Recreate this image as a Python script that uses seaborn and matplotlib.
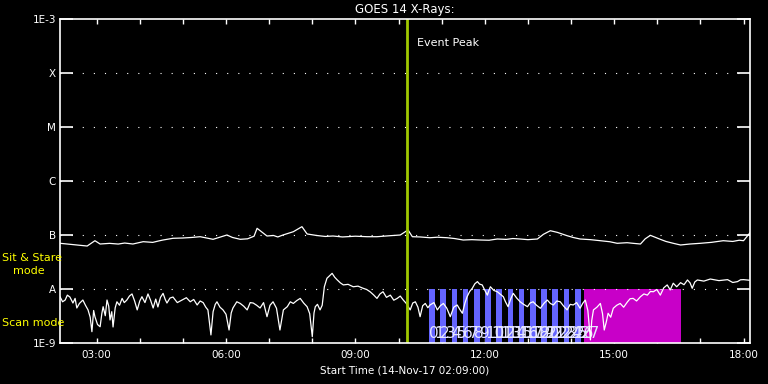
import matplotlib
matplotlib.use("Agg")
import matplotlib.pyplot as plt
import seaborn as sns
import pandas as pd
from matplotlib.ticker import FixedLocator, NullLocator

sns.set_theme(style="dark")
plt.rcParams['font.family'] = ['DejaVu Sans']

# ---- data (time in decimal hours UT, flux in nW/m^2) ----
long_pts = [
    (2.15, 70.2), (2.78, 62.5), (2.96, 78.4), (3.08, 68.1), (3.3, 70), (3.5, 68), (3.65, 71),
    (3.84, 68.1), (4.08, 75.2), (4.3, 73), (4.45, 78), (4.54, 80.8), (4.77, 86.9), (5.0, 88),
    (5.2, 90), (5.40, 93), (5.55, 88), (5.70, 83.2), (6.02, 100), (6.15, 90), (6.33, 83.2),
    (6.5, 85), (6.65, 95), (6.72, 133), (6.95, 95.8), (7.1, 98), (7.2, 92), (7.32, 100),
    (7.56, 115), (7.76, 142.6), (7.88, 104.5), (8.1, 98), (8.3, 94), (8.48, 95.8), (8.7, 92),
    (9.0, 95), (9.27, 93), (9.5, 93), (9.8, 97), (10.04, 100), (10.22, 124), (10.32, 93),
    (10.5, 92), (10.73, 89), (10.9, 91), (11.13, 89), (11.3, 86), (11.50, 80.8), (11.7, 82),
    (11.89, 80.8), (12.1, 80), (12.29, 84.3), (12.5, 83), (12.65, 86), (12.82, 84.3),
    (13.0, 82), (13.22, 84.3), (13.36, 103), (13.52, 120), (13.68, 112), (13.91, 97),
    (14.05, 90), (14.21, 84.3), (14.45, 82), (14.68, 78.4), (14.9, 75), (15.07, 70.2),
    (15.3, 72), (15.45, 70), (15.61, 68.1), (15.72, 85), (15.84, 98.6), (16.07, 83.2),
    (16.2, 76), (16.37, 70.2), (16.54, 65.3), (16.75, 68), (17.00, 70.2), (17.25, 73),
    (17.53, 78.4), (17.75, 76), (17.9, 80), (18.00, 78.4), (18.15, 110)]

short_pts = [
    (2.15, 7.2), (2.21, 5.8), (2.27, 6.25), (2.32, 7.7), (2.38, 7.1), (2.45, 5.5), (2.50, 6.7),
    (2.54, 4.45), (2.60, 5.4), (2.68, 6.25), (2.74, 5.0), (2.80, 4.1), (2.85, 3.0), (2.89, 1.62),
    (2.93, 4.0), (2.96, 3.07), (3.02, 2.2), (3.08, 2.0), (3.12, 3.5), (3.15, 4.7), (3.20, 3.2),
    (3.24, 6.25), (3.28, 4.8), (3.31, 2.67), (3.35, 3.8), (3.38, 1.98), (3.43, 4.5), (3.47, 5.8),
    (3.53, 5.0), (3.59, 6.7), (3.64, 5.6), (3.70, 6.25), (3.76, 7.4), (3.82, 8.1), (3.88, 6.0),
    (3.94, 4.1), (4.00, 6.0), (4.05, 7.2), (4.12, 5.6), (4.19, 8.1), (4.25, 6.2), (4.31, 4.45),
    (4.37, 6.5), (4.42, 4.65), (4.48, 7.0), (4.54, 8.3), (4.59, 6.4), (4.63, 5.5), (4.70, 6.8),
    (4.77, 7.1), (4.87, 5.6), (4.98, 6.25), (5.08, 6.9), (5.17, 5.8), (5.25, 6.4), (5.33, 5.06),
    (5.40, 6.0), (5.47, 5.6), (5.53, 4.6), (5.58, 4.1), (5.65, 1.41), (5.70, 3.8), (5.75, 5.2),
    (5.79, 5.8), (5.86, 4.6), (5.93, 4.1), (6.00, 3.4), (6.07, 1.74), (6.12, 3.6), (6.16, 4.45),
    (6.25, 5.8), (6.33, 5.4), (6.41, 4.8), (6.49, 4.1), (6.56, 5.6), (6.63, 5.5), (6.71, 5.0),
    (6.79, 4.45), (6.87, 5.6), (6.95, 3.07), (7.02, 5.0), (7.09, 5.8), (7.17, 4.4), (7.25, 1.74),
    (7.33, 4.1), (7.42, 4.7), (7.49, 5.8), (7.56, 5.4), (7.64, 6.1), (7.72, 6.7), (7.80, 5.5),
    (7.88, 4.7), (7.94, 3.5), (8.00, 1.31), (8.04, 3.6), (8.07, 4.7), (8.12, 5.2), (8.18, 4.1),
    (8.23, 5.0), (8.28, 11.0), (8.34, 15.8), (8.40, 17.5), (8.46, 19.5), (8.52, 16.5),
    (8.58, 14.7), (8.65, 13.0), (8.72, 11.9), (8.83, 12.2), (8.95, 11.0), (9.06, 11.3),
    (9.18, 10.3), (9.26, 9.8), (9.34, 8.9), (9.42, 7.8), (9.50, 6.7), (9.57, 8.1), (9.64, 8.9),
    (9.72, 7.0), (9.81, 7.7), (9.89, 6.2), (9.97, 6.7), (10.04, 7.4), (10.11, 6.25), (10.18, 5.4),
    (10.27, 4.1), (10.33, 5.5), (10.39, 5.8), (10.45, 4.6), (10.50, 3.07), (10.56, 4.9),
    (10.62, 5.4), (10.68, 4.5), (10.73, 5.06), (10.82, 5.6), (10.90, 4.1), (10.97, 4.9),
    (11.04, 5.4), (11.12, 4.4), (11.20, 3.07), (11.28, 4.6), (11.36, 5.06), (11.42, 4.2),
    (11.48, 3.55), (11.54, 5.5), (11.59, 7.2), (11.65, 9.0), (11.71, 10.3), (11.77, 12.5),
    (11.83, 13.7), (11.88, 12.3), (11.94, 11.9), (12.00, 9.5), (12.06, 7.7), (12.10, 9.6),
    (12.13, 11.0), (12.21, 9.4), (12.29, 8.9), (12.36, 8.0), (12.43, 7.2), (12.48, 5.8),
    (12.54, 4.7), (12.60, 6.5), (12.66, 8.3), (12.74, 6.8), (12.82, 5.8), (12.90, 5.2),
    (12.99, 4.7), (13.05, 5.5), (13.12, 5.8), (13.20, 5.0), (13.29, 4.4), (13.37, 5.4),
    (13.45, 6.25), (13.52, 5.4), (13.59, 5.06), (13.67, 6.0), (13.75, 5.8), (13.83, 4.8),
    (13.91, 4.1), (13.98, 5.2), (14.05, 5.06), (14.13, 5.6), (14.21, 4.4), (14.27, 5.4),
    (14.33, 6.25), (14.39, 4.0), (14.45, 1.14), (14.48, 2.6), (14.52, 4.1), (14.60, 4.6),
    (14.68, 5.4), (14.73, 3.5), (14.77, 1.74), (14.82, 2.5), (14.86, 3.55), (14.92, 3.0),
    (14.98, 4.4), (15.06, 5.0), (15.14, 5.4), (15.22, 4.6), (15.31, 5.8), (15.37, 6.6),
    (15.44, 6.7), (15.52, 6.0), (15.61, 7.2), (15.69, 8.1), (15.77, 7.7), (15.84, 9.0),
    (15.91, 8.9), (15.99, 9.8), (16.07, 7.7), (16.15, 10.5), (16.23, 11.9), (16.30, 9.6),
    (16.37, 12.8), (16.45, 11.0), (16.54, 13.1), (16.62, 12.0), (16.70, 14.7), (16.76, 13.0),
    (16.81, 10.3), (16.87, 13.5), (16.93, 14.7), (17.08, 14.0), (17.23, 15.3), (17.43, 14.3),
    (17.63, 14.9), (17.75, 13.2), (17.86, 13.7), (17.93, 14.8), (18.00, 14.9), (18.15, 14.5)]

scan_starts = [10.71, 10.97, 11.23, 11.49, 11.75, 12.01, 12.27, 12.53, 12.79, 13.05,
               13.31, 13.57, 13.83, 14.09]
scan_width = 0.13
stare_start, stare_end = 14.31, 16.56
event_peak = 10.20

ytick_vals = [1e-9, 1e-8, 1e-7, 1e-6, 1e-5, 1e-4, 1e-3]
ytick_labels = ['1E-9', 'A', 'B', 'C', 'M', 'X', '1E-3']
xtick_hours = [3, 6, 9, 12, 15, 18]
xminor_hours = list(range(3, 19))

# ---- figure ----
fig = plt.figure(figsize=(7.68, 3.84), dpi=100, facecolor='black')
ax = fig.add_axes([60/768, 41/384, 690/768, 324/384])
ax.set_facecolor('black')
ax.grid(False)
ax.set_yscale('log')

lo, hi = 1e-9, 1e-8
ax.bar(scan_starts, [hi - lo]*len(scan_starts), bottom=lo, width=scan_width,
       align='edge', color='#6464ff', linewidth=0, zorder=1)
ax.bar([stare_start], [hi - lo], bottom=lo, width=stare_end - stare_start,
       align='edge', color='#c800c8', linewidth=0, zorder=1)

# scan labels
lab_x = []
for s in scan_starts:
    lab_x += [s, s + scan_width]
for i, x in enumerate(lab_x):
    ax.text(x, 1.25e-9, str(i), color='#e6e6ff', fontsize=11, ha='left', va='baseline', zorder=4)

for v in ytick_vals[1:-1]:
    ax.axhline(v, color='white', lw=0.8, ls=(0, (1, 9)), zorder=2)

df_long = pd.DataFrame({'t': [p[0] for p in long_pts], 'f': [p[1]*1e-9 for p in long_pts]})
df_short = pd.DataFrame({'t': [p[0] for p in short_pts], 'f': [p[1]*1e-9 for p in short_pts]})
sns.lineplot(data=df_long, x='t', y='f', ax=ax, color='white', lw=0.9,
             estimator=None, sort=False, legend=False, zorder=5)
sns.lineplot(data=df_short, x='t', y='f', ax=ax, color='white', lw=0.9,
             estimator=None, sort=False, legend=False, zorder=5)

ax.axvline(event_peak, color='#a0c800', lw=2, zorder=6)
ax.text(event_peak + 0.23, 10**(-3 - 24/54), 'Event Peak', color='white', fontsize=8,
        ha='left', va='center')

ax.set_xlim(2.15, 18.15)
ax.set_ylim(1e-9, 1e-3)
ax.set_yticks(ytick_vals)
ax.set_yticklabels(ytick_labels)
ax.yaxis.set_minor_locator(NullLocator())
ax.xaxis.set_major_locator(FixedLocator(xtick_hours))
ax.xaxis.set_minor_locator(FixedLocator(xminor_hours))
ax.set_xticklabels([f"{h:02d}:00" for h in xtick_hours])

ax.tick_params(axis='y', which='major', direction='in', length=9.5, width=1.2,
               colors='white', left=True, right=True, labelsize=7.5, pad=3)
ax.tick_params(axis='x', which='both', direction='in', length=3.8, width=1,
               colors='white', top=True, bottom=True, labelsize=7.5, pad=5)
for sp in ax.spines.values():
    sp.set_color('white')
    sp.set_linewidth(1.2)
    sp.set_zorder(7)

ax.set_xlabel('Start Time (14-Nov-17 02:09:00)', color='white', fontsize=7.5, labelpad=4)
ax.set_ylabel('')
ax.set_title('GOES 14 X-Rays:', color='white', fontsize=8.5, pad=4)

fig.text(2/768, 1 - 258/384, 'Sit & Stare', color='#ffff00', fontsize=8, ha='left', va='center')
fig.text(13/768, 1 - 271/384, 'mode', color='#ffff00', fontsize=8, ha='left', va='center')
fig.text(2/768, 1 - 323/384, 'Scan mode', color='#ffff00', fontsize=8, ha='left', va='center')

fig.savefig('out.png', dpi=100, facecolor='black')
